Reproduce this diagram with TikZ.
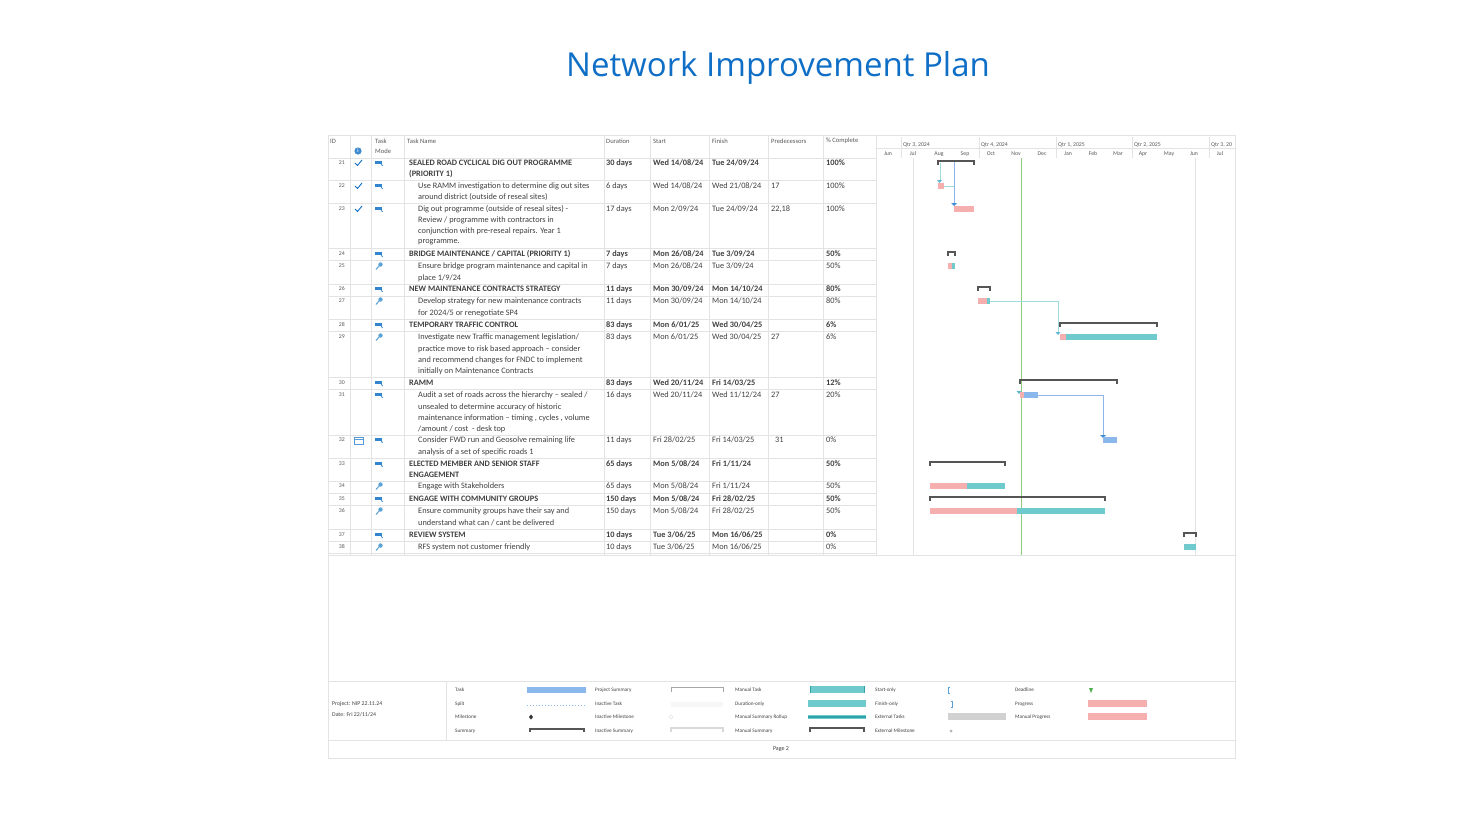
\documentclass[tikz,border=0pt]{standalone}
\usepackage{fontspec}
\setmainfont{Carlito}
\newfontfamily\titlefont{Open Sans}
\definecolor{ttl}{HTML}{0F6FC6}
\definecolor{teal}{HTML}{6ECACC}
\definecolor{dteal}{HTML}{2FA3A8}
\definecolor{tblue}{HTML}{8AB8EC}
\definecolor{prog}{HTML}{F6AFAF}
\definecolor{sumg}{HTML}{555555}
\definecolor{grid}{HTML}{E3E3E3}
\definecolor{txt}{HTML}{404040}
\definecolor{lnk}{HTML}{9FDCE0}
\definecolor{lnkb}{HTML}{8FB4EA}
\definecolor{today}{HTML}{8FCC80}
\newcommand{\rowb}[5]{\node[bx] at (606,#1) {#2}; \node[bx] at (653,#1) {#3}; \node[bx] at (712,#1) {#4}; \node[bx] at (826,#1) {#5};}
\newcommand{\rown}[6]{\node[tx] at (606,#1) {#2}; \node[tx] at (653,#1) {#3}; \node[tx] at (712,#1) {#4}; \node[tx] at (771,#1) {#5}; \node[tx] at (826,#1) {#6};}
\begin{document}
\begin{tikzpicture}[x=1pt,y=-1pt,
  tx/.style={font=\fontsize{8.3}{9}\selectfont,text=txt,anchor=west,inner sep=0pt},
  bx/.style={tx,font=\fontsize{8.3}{9}\selectfont\bfseries},
  hd/.style={tx,font=\fontsize{6.6}{7}\selectfont,text=black!65},
  lg/.style={tx,font=\fontsize{5.8}{6}\selectfont},
  sumst/.style={draw=sumg,line width=1.6pt},
  gl/.style={draw=grid,line width=0.5pt}]
\useasboundingbox (0,0) rectangle (1460,822);
\fill[white] (0,0) rectangle (1460,822);
\node[font=\titlefont\fontsize{33}{38}\selectfont,text=ttl] (title) at (778,68) {Network Improvement Plan};
% frame
\draw[gl] (328,135) rectangle (1235,758);
\draw[gl] (328,555) -- (1235,555);
\draw[gl] (328,681) -- (1235,681);
\draw[gl] (328,740) -- (1235,740);
\draw[gl] (446,681) -- (446,740);
\foreach \x in {350,371,404,604,650,709,768,823,876} \draw[gl] (\x,135) -- (\x,555);
\foreach \y in {158,180,203,248,260,284,296,319,331,377,389,435,458,481,493,505,529,541,553} \draw[gl] (328,\y) -- (876,\y);
% headers
\node[hd] at (330,141) {ID};
\node[hd] at (375,141) {Task};
\node[hd] at (375,151) {Mode};
\node[hd] at (407,141) {Task Name};
\node[hd] at (606,141) {Duration};
\node[hd] at (653,141) {Start};
\node[hd] at (712,141) {Finish};
\node[hd] at (771,141) {Predecessors};
\node[hd] at (826,141) {\% Complete};
\fill[ttl!80] (358,151) circle (3.6);
\node[font=\fontsize{5}{5}\selectfont\bfseries,text=white,inner sep=0] at (358,151) {i};
% timeline header
\draw[gl] (876,148) -- (1235,148);
\foreach \x in {901,979,1056,1132,1209} \draw[gl] (\x,137) -- (\x,158);
\foreach \x/\q in {903/{Qtr 3, 2024},981/{Qtr 4, 2024},1058/{Qtr 1, 2025},1134/{Qtr 2, 2025},1211/{Qtr 3, 20}} \node[hd,font=\fontsize{5.8}{6}\selectfont] at (\x,145) {\q};
\foreach \x/\m in {888/Jun,913/Jul,939/Aug,965/Sep,991/Oct,1016/Nov,1042/Dec,1068/Jan,1093/Feb,1118/Mar,1143/Apr,1169/May,1194/Jun,1220/Jul} \node[hd,font=\fontsize{5.8}{6}\selectfont,anchor=center] at (\x,154) {\m};
\draw[grid] (913,158) -- (913,555);
\draw[grid] (1195,158) -- (1195,555);
\draw[today,line width=1pt] (1021,158) -- (1021,555);
% ID numbers
\foreach \i/\y in {21/163,22/186,23/209,24/254,25/266,26/289,27/301,28/325,29/337,30/383,31/395,32/440,33/464,34/486,35/499,36/511,37/535,38/547}
  \node[hd,font=\fontsize{5.8}{6}\selectfont,anchor=east] at (345,\y) {\i};
\foreach \y in {163,186,209} \draw[ttl,line width=0.9pt] (355,\y) -- (357.5,\y+2.5) -- (362,\y-3);
\draw[ttl!70] (354,437) rectangle (363,444); \draw[ttl!70] (354,439) -- (363,439);
\foreach \y in {163,186,209,254,289,325,383,395,440,464,499,535} {
  \fill[ttl!85] (375,\y-2.5) rectangle (382,\y+0.5);
  \draw[ttl!85,line width=0.8pt] (381,\y+0.5) -- (382.5,\y+3);}
\foreach \y in {266,301,337,486,511,547} {
  \draw[teal!80!blue,line width=1pt] (376,\y+3.5) -- (379.5,\y-0.5);
  \fill[teal!80!blue] (380.5,\y-1.5) circle (2.2);}
% task names
\node[bx] at (409,163) {SEALED ROAD CYCLICAL DIG OUT PROGRAMME};
\node[bx] at (409,174) {(PRIORITY 1)};
\node[tx] at (418,186) {Use RAMM investigation to determine dig out sites};
\node[tx] at (418,197) {around district (outside of reseal sites)};
\node[tx] at (418,209) {Dig out programme (outside of reseal sites) -};
\node[tx] at (418,220) {Review / programme with contractors in};
\node[tx] at (418,231) {conjunction with pre-reseal repairs. Year 1};
\node[tx] at (418,242) {programme.};
\node[bx] at (409,254) {BRIDGE MAINTENANCE / CAPITAL (PRIORITY 1)};
\node[tx] at (418,266) {Ensure bridge program maintenance and capital in};
\node[tx] at (418,278) {place 1/9/24};
\node[bx] at (409,289) {NEW MAINTENANCE CONTRACTS STRATEGY};
\node[tx] at (418,301) {Develop strategy for new maintenance contracts};
\node[tx] at (418,313) {for 2024/5 or renegotiate SP4};
\node[bx] at (409,325) {TEMPORARY TRAFFIC CONTROL};
\node[tx] at (418,337) {Investigate new Traffic management legislation/};
\node[tx] at (418,349) {practice move to risk based approach -- consider};
\node[tx] at (418,360) {and recommend changes for FNDC to implement};
\node[tx] at (418,371) {initially on Maintenance Contracts};
\node[bx] at (409,383) {RAMM};
\node[tx] at (418,395) {Audit a set of roads across the hierarchy -- sealed /};
\node[tx] at (418,407) {unsealed to determine accuracy of historic};
\node[tx] at (418,418) {maintenance information -- timing , cycles , volume};
\node[tx] at (418,429) {/amount / cost \ - desk top};
\node[tx] at (418,440) {Consider FWD run and Geosolve remaining life};
\node[tx] at (418,452) {analysis of a set of specific roads 1};
\node[bx] at (409,464) {ELECTED MEMBER AND SENIOR STAFF};
\node[bx] at (409,475) {ENGAGEMENT};
\node[tx] at (418,486) {Engage with Stakeholders};
\node[bx] at (409,499) {ENGAGE WITH COMMUNITY GROUPS};
\node[tx] at (418,511) {Ensure community groups have their say and};
\node[tx] at (418,523) {understand what can / cant be delivered};
\node[bx] at (409,535) {REVIEW SYSTEM};
\node[tx] at (418,547) {RFS system not customer friendly};
% other columns
\rowb{163}{30 days}{Wed 14/08/24}{Tue 24/09/24}{100\%}
\rown{186}{6 days}{Wed 14/08/24}{Wed 21/08/24}{17}{100\%}
\rown{209}{17 days}{Mon 2/09/24}{Tue 24/09/24}{22,18}{100\%}
\rowb{254}{7 days}{Mon 26/08/24}{Tue 3/09/24}{50\%}
\rown{266}{7 days}{Mon 26/08/24}{Tue 3/09/24}{}{50\%}
\rowb{289}{11 days}{Mon 30/09/24}{Mon 14/10/24}{80\%}
\rown{301}{11 days}{Mon 30/09/24}{Mon 14/10/24}{}{80\%}
\rowb{325}{83 days}{Mon 6/01/25}{Wed 30/04/25}{6\%}
\rown{337}{83 days}{Mon 6/01/25}{Wed 30/04/25}{27}{6\%}
\rowb{383}{83 days}{Wed 20/11/24}{Fri 14/03/25}{12\%}
\rown{395}{16 days}{Wed 20/11/24}{Wed 11/12/24}{27}{20\%}
\rown{440}{11 days}{Fri 28/02/25}{Fri 14/03/25}{\hspace{4pt}31}{0\%}
\rowb{464}{65 days}{Mon 5/08/24}{Fri 1/11/24}{50\%}
\rown{486}{65 days}{Mon 5/08/24}{Fri 1/11/24}{}{50\%}
\rowb{499}{150 days}{Mon 5/08/24}{Fri 28/02/25}{50\%}
\rown{511}{150 days}{Mon 5/08/24}{Fri 28/02/25}{}{50\%}
\rowb{535}{10 days}{Tue 3/06/25}{Mon 16/06/25}{0\%}
\rown{547}{10 days}{Tue 3/06/25}{Mon 16/06/25}{}{0\%}
% links
\draw[lnk,line width=0.7pt] (940,163) -- (940,181);
\draw[lnkb,line width=0.7pt] (954,161) -- (954,204);
\draw[lnk,line width=0.7pt] (944,186) -- (954,186);
\draw[lnk,line width=0.7pt] (990,301) -- (1058,301) -- (1058,333);
\draw[lnkb,line width=0.7pt] (1038,395) -- (1103,395) -- (1103,436);
\fill[teal!90!blue] (937,180) -- (942,180) -- (939.5,183) -- cycle;
\fill[ttl!80] (951,203) -- (957,203) -- (954,206) -- cycle;
\fill[teal!90!blue] (1055.5,332) -- (1060.5,332) -- (1058,335) -- cycle;
\fill[teal!90!blue] (1016.5,391) -- (1021.5,391) -- (1019,394) -- cycle;
\fill[ttl!80] (1100,435) -- (1106,435) -- (1103,438) -- cycle;
% summaries
\foreach \a/\b/\y in {938/974/161,948/955/252,978/990/287,1060/1157/323,1020/1117/380,930/1005/462,930/1105/497,1184/1196/533}
  \draw[sumst] (\a,\y+4) -- (\a,\y) -- (\b,\y) -- (\b,\y+4);
% bars
\foreach \a/\b/\p/\y/\c in {938/944/944/186/teal,954/974/974/209/teal,948/955/951.5/266/teal,978/990/987/301/teal,1060/1157/1066/337/teal,1020/1038/1024/395/tblue,1103/1117/1103/440/tblue,930/1005/967/486/teal,930/1105/1017/511/teal,1184/1196/1184/547/teal} {
  \fill[\c] (\a,\y-3) rectangle (\b,\y+3);
  \fill[prog] (\a,\y-3) rectangle (\p,\y+3);}
% legend
\node[lg] at (332,704) {Project: NIP 22.11.24};
\node[lg] at (332,715) {Date: Fri 22/11/24};
\foreach \x/\a/\b/\c/\d in {455/Task/Split/Milestone/Summary,595/Project Summary/Inactive Task/Inactive Milestone/Inactive Summary,735/Manual Task/Duration-only/Manual Summary Rollup/Manual Summary,875/Start-only/Finish-only/External Tasks/External Milestone,1015/Deadline/Progress/Manual Progress/} {
  \node[lg,font=\fontsize{5.2}{5}\selectfont] at (\x,690) {\a};
  \node[lg,font=\fontsize{5.2}{5}\selectfont] at (\x,704) {\b};
  \node[lg,font=\fontsize{5.2}{5}\selectfont] at (\x,717) {\c};
  \node[lg,font=\fontsize{5.2}{5}\selectfont] at (\x,731) {\d};}
\fill[tblue] (527,687) rectangle (586,693);
\draw[tblue,dotted,line width=1pt] (527,705) -- (586,705);
\fill[black!80] (531,714.5) -- (533,717) -- (531,719.5) -- (529,717) -- cycle;
\draw[sumg,line width=1.4pt] (530,732) -- (530,729) -- (584,729) -- (584,732);
\draw[black!35,line width=0.8pt] (671,692) -- (671,687) -- (723,687) -- (723,692);
\fill[black!3] (671,702) rectangle (723,707);
\draw[black!10] (671,715) -- (673,717) -- (671,719) -- (669,717) -- cycle;
\draw[black!15,line width=1.2pt] (671,732) -- (671,728) -- (723,728) -- (723,732);
\fill[teal] (810,686) rectangle (864,693); \draw[dteal,line width=0.8pt] (810,686) -- (810,693) (864,686) -- (864,693);
\fill[teal] (808,700) rectangle (866,707);
\fill[teal] (808,715) rectangle (866,719); \draw[dteal,line width=1.2pt] (808,717) -- (866,717);
\draw[sumg,line width=1.4pt] (810,732) -- (810,728) -- (864,728) -- (864,732);
\draw[teal!80!blue,line width=0.8pt] (950,687) -- (948.5,687) -- (948.5,693) -- (950,693);
\draw[teal!80!blue,line width=0.8pt] (951,701) -- (952.5,701) -- (952.5,707) -- (951,707);
\fill[black!18] (948,713) rectangle (1006,720);
\fill[black!30] (951,729.5) -- (952.5,731) -- (951,732.5) -- (949.5,731) -- cycle;
\fill[green!55!black!70] (1089,688) -- (1093,688) -- (1091,693) -- cycle;
\fill[prog] (1088,700) rectangle (1147,707);
\fill[prog] (1088,713) rectangle (1147,720);
\node[lg,font=\fontsize{6}{6}\selectfont,anchor=center] (page) at (781,749) {Page 2};
\end{tikzpicture}
\end{document}
